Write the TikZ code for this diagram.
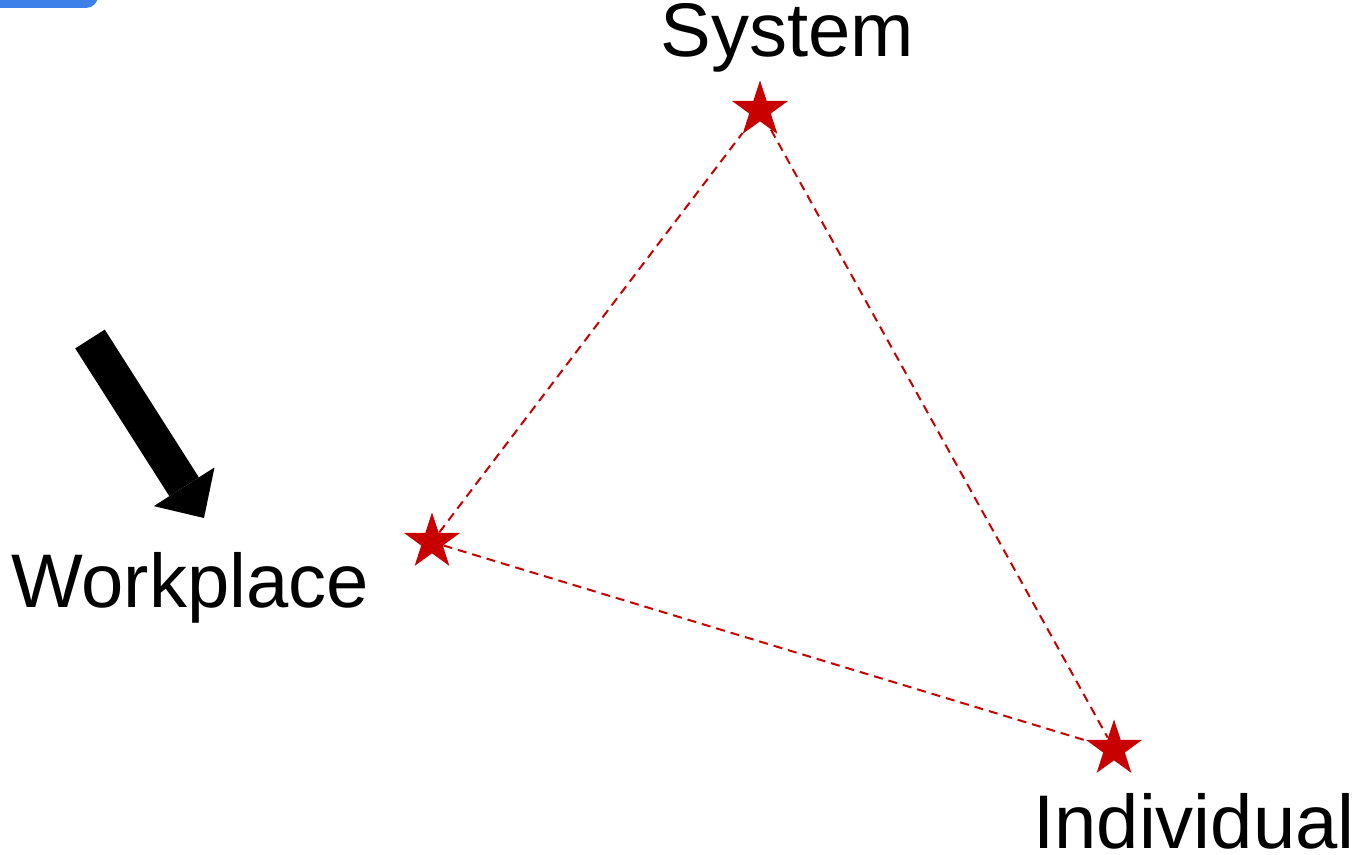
\documentclass[tikz,border=0pt]{standalone}
\usepackage{fontspec}
\setmainfont{Liberation Sans}
\usepackage{tikz}
\usetikzlibrary{arrows.meta, positioning, shapes.geometric}

\definecolor{starred}{RGB}{200,0,0}
\definecolor{tabblue}{RGB}{61,128,234}

\begin{document}
\begin{tikzpicture}[
  x=0.5pt, y=-0.5pt,
  vertex/.style={star, star points=5, star point ratio=2.6, fill=starred,
    draw=none, inner sep=0pt, minimum size=29.5pt},
  lbl/.style={anchor=base, inner sep=0pt, font=\fontsize{38}{41}\selectfont},
  link/.style={draw=starred, line width=1pt, dash pattern=on 4.5pt off 3pt},
  bigarr/.style={line width=17.5pt,
    -{Triangle[length=18.5pt 0, width=36pt 0, line width=0pt]}}
]
  \useasboundingbox (0,0) rectangle (1365,855);
  % blue tab cut off at the top left
  \fill[tabblue, rounded corners=6pt] (-20,-30) rectangle (98,8);

  % the three corners
  \node[vertex] (sys) at (760,110) {};
  \node[vertex] (wp) at (432,542) {};
  \node[vertex] (ind) at (1114,749) {};

  \draw[link] (wp) -- (sys);
  \draw[link] (sys) -- (ind);
  \draw[link] (wp) -- (ind);

  \node[lbl] (syslbl) at (787,57) {System};
  \node[lbl] (wplbl) at (190,607) {Workplace};
  \node[lbl] (indlbl) at (1194,848) {Individual};

  % pointer to the workplace corner
  \coordinate (arrtail) at (90,339);
  \coordinate (arrtip) at (204,518);
  \draw[bigarr] (arrtail) -- (arrtip);
\end{tikzpicture}
\end{document}
